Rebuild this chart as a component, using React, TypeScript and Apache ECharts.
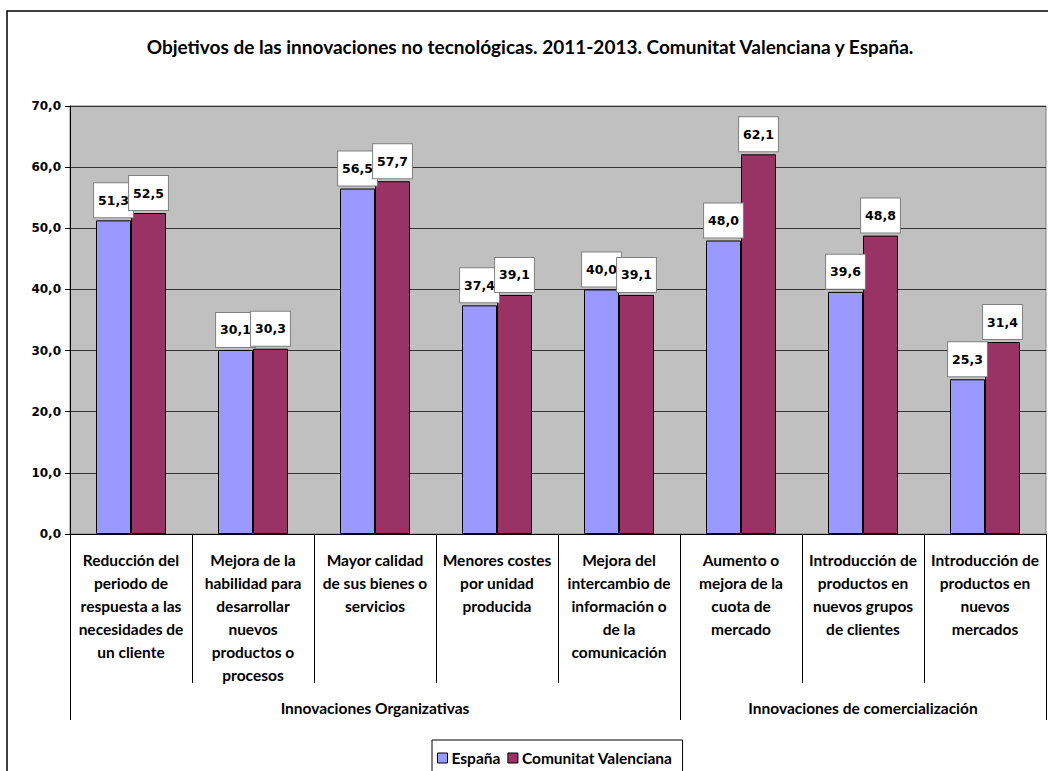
import React, { useEffect, useRef } from "react";
import * as echarts from "echarts";

const title = "Objetivos de las innovaciones no tecnológicas. 2011-2013. Comunitat Valenciana y España.";
const categories = [
  "Reducción del\nperiodo de\nrespuesta a las\nnecesidades de\nun cliente",
  "Mejora de la\nhabilidad para\ndesarrollar\nnuevos\nproductos o\nprocesos",
  "Mayor calidad\nde sus bienes o\nservicios",
  "Menores costes\npor unidad\nproducida",
  "Mejora del\nintercambio de\ninformación o\nde la\ncomunicación",
  "Aumento o\nmejora de la\ncuota de\nmercado",
  "Introducción de\nproductos en\nnuevos grupos\nde clientes",
  "Introducción de\nproductos en\nnuevos\nmercados",
];
const seriesNames = ["España", "Comunitat Valenciana"];
const espana = [51.3, 30.1, 56.5, 37.4, 40.0, 48.0, 39.6, 25.3];
const valenciana = [52.5, 30.3, 57.7, 39.1, 39.1, 62.1, 48.8, 31.4];
const groupNames = ["Innovaciones Organizativas", "Innovaciones de comercialización"];
const groupStarts = [0, 5];
const groupEnds = [5, 8];
const yMin = 0;
const yMax = 70;
const yInterval = 10;

const colors = ["#9999FF", "#993366"];
const catFont = "Lato";
const numFont = "DejaVu Sans";

const fmt = (v: number) => v.toFixed(1).replace(".", ",");

export default function App() {
  const ref = useRef<HTMLDivElement>(null);
  useEffect(() => {
    if (!ref.current) return;
    const chart = echarts.init(ref.current, undefined, { renderer: "svg" });
    const labelStyle = {
      show: true,
      position: "top" as const,
      distance: 3,
      formatter: (p: any) => fmt(p.value),
      backgroundColor: "#ffffff",
      borderColor: "#808080",
      borderWidth: 1,
      padding: [10, 4, 10, 4],
      lineHeight: 14,
      fontFamily: numFont,
      fontWeight: "bold" as const,
      fontSize: 12.5,
      color: "#000",
    };
    const option: any = {
      animation: false,
      backgroundColor: "#ffffff",
      title: {
        text: title,
        left: 525,
        textAlign: "center",
        top: 32,
        textStyle: { fontFamily: catFont, fontWeight: "bold", fontSize: 19, color: "#000" },
      },
      legend: {
        data: seriesNames,
        left: 432,
        top: 740,
        backgroundColor: "#fff",
        borderColor: "#000",
        borderWidth: 1,
        padding: [10, 10, 12, 5],
        itemWidth: 10,
        itemHeight: 10,
        itemGap: 7,
        icon: "rect",
        itemStyle: { borderColor: "#000", borderWidth: 1 },
        textStyle: { fontFamily: catFont, fontWeight: "bold", fontSize: 15.5, color: "#000", padding: [0, 0, 0, -1] },
      },
      grid: {
        left: 70,
        right: 2,
        top: 106,
        bottom: 237,
        show: true,
        backgroundColor: "#C0C0C0",
        borderColor: "#808080",
        borderWidth: 1,
        containLabel: false,
      },
      xAxis: {
        type: "category",
        data: categories,
        axisLine: { show: true, lineStyle: { color: "#000", width: 1 } },
        axisTick: { show: true, interval: 0, length: 149, lineStyle: { color: "#000", width: 1 } },
        axisLabel: {
          interval: 0,
          margin: 14,
          lineHeight: 23,
          fontFamily: catFont,
          fontWeight: "bold",
          fontSize: 15.5,
          color: "#000",
          align: "center",
        },
      },
      yAxis: {
        type: "value",
        min: yMin,
        max: yMax,
        interval: yInterval,
        axisLine: { show: true, lineStyle: { color: "#000", width: 1 } },
        axisTick: { show: true, length: 5, lineStyle: { color: "#000" } },
        axisLabel: {
          formatter: (v: number) => fmt(v),
          fontFamily: numFont,
          fontWeight: "bold",
          fontSize: 12,
          color: "#000",
          margin: 9,
        },
        splitLine: { show: true, lineStyle: { color: "#333", width: 1 } },
      },
      series: [
        {
          name: seriesNames[0],
          type: "bar",
          data: espana,
          barWidth: 35,
          barGap: "0%",
          itemStyle: { color: colors[0], borderColor: "#000", borderWidth: 1 },
          label: labelStyle,
        },
        {
          name: seriesNames[1],
          type: "bar",
          data: valenciana,
          barWidth: 35,
          barGap: "0%",
          itemStyle: { color: colors[1], borderColor: "#000", borderWidth: 1 },
          label: labelStyle,
        },
      ],
    };
    chart.setOption(option);

    // group separators and labels computed from the axis scale
    const c0 = chart.convertToPixel({ xAxisIndex: 0 }, 0 as any) as unknown as number;
    const c1 = chart.convertToPixel({ xAxisIndex: 0 }, 1 as any) as unknown as number;
    const band = c1 - c0;
    const y0 = chart.convertToPixel({ yAxisIndex: 0 }, 0 as any) as unknown as number;
    const boundary = (i: number) => c0 - band / 2 + i * band;
    const graphics: any[] = [
      {
        type: "rect",
        shape: { x: 7, y: 11, width: 1100, height: 800 },
        style: { fill: "none", stroke: "#000", lineWidth: 1.5 },
        silent: true,
        z: 100,
      },
    ];
    const bset = new Set<number>();
    groupStarts.forEach((s, i) => {
      bset.add(s);
      bset.add(groupEnds[i]);
    });
    Array.from(bset).forEach((b) => {
      const x = Math.round(boundary(b)) + 0.5;
      graphics.push({
        type: "line",
        shape: { x1: x, y1: y0, x2: x, y2: y0 + 186 },
        style: { stroke: "#000", lineWidth: 1 },
        silent: true,
      });
    });
    groupNames.forEach((g, i) => {
      const cx = (boundary(groupStarts[i]) + boundary(groupEnds[i])) / 2;
      graphics.push({
        type: "text",
        x: cx,
        y: y0 + 174,
        style: {
          text: g,
          fontFamily: catFont,
          fontWeight: "bold",
          fontSize: 15.5,
          fill: "#000",
          align: "center",
          verticalAlign: "middle",
        },
      });
    });
    chart.setOption({ graphic: graphics });
    return () => chart.dispose();
  }, []);
  return (
    <div
      ref={ref}
      style={{ position: "absolute", left: 0, top: 0, width: 1048, height: 771 }}
    />
  );
}
